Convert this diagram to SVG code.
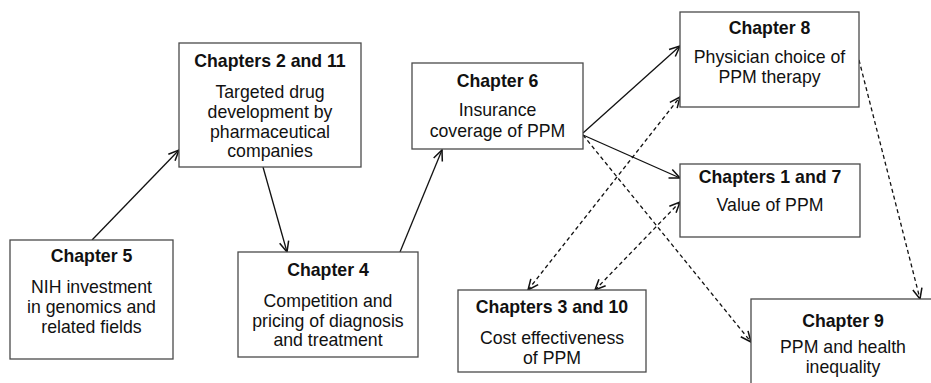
<svg xmlns="http://www.w3.org/2000/svg" width="931" height="383" viewBox="0 0 931 383">
<style>
.box{fill:#fff;stroke:#4a4a4a;stroke-width:1.3}
text{font-family:"Liberation Sans",Arial,sans-serif;font-size:17.7px;fill:#111;text-anchor:middle}
.t{font-weight:bold}
.c{fill:none;stroke:#111;stroke-width:1.3}
.d{stroke-dasharray:4 3}
</style>
<defs>
<marker id="ah" markerUnits="userSpaceOnUse" markerWidth="14" markerHeight="14" refX="10" refY="5" orient="auto-start-reverse" viewBox="0 0 12 10">
<path d="M1,1 L10,5 L1,9" fill="none" stroke="#111" stroke-width="1.3"/>
</marker>
</defs>
<rect width="931" height="383" fill="#fff"/>
<g id="connectors">
<path class="c" d="M92,240 L179,150" marker-end="url(#ah)"/>
<path class="c" d="M263,167 L287,252" marker-end="url(#ah)"/>
<path class="c" d="M400,252 L442,150" marker-end="url(#ah)"/>
<path class="c" d="M583,133 L680,46" marker-end="url(#ah)"/>
<path class="c" d="M583,135 L680,178" marker-end="url(#ah)"/>
<path class="c d" d="M583,135 L751,342" marker-end="url(#ah)"/>
<path class="c d" d="M528,290 L680,97" marker-start="url(#ah)" marker-end="url(#ah)"/>
<path class="c d" d="M595,290 L680,202" marker-start="url(#ah)" marker-end="url(#ah)"/>
<path class="c d" d="M859,60 L920,299" marker-end="url(#ah)"/>
</g>
<g id="ch5">
<rect class="box" x="10" y="240" width="163" height="119"/>
<text class="t" x="91.5" y="262">Chapter 5</text>
<text x="91.5" y="293">NIH investment</text>
<text x="91.5" y="313">in genomics and</text>
<text x="91.5" y="333">related fields</text>
</g>
<g id="ch2_11">
<rect class="box" x="179" y="43" width="182" height="124"/>
<text class="t" x="270" y="67">Chapters 2 and 11</text>
<text x="270" y="98">Targeted drug</text>
<text x="270" y="118">development by</text>
<text x="270" y="138">pharmaceutical</text>
<text x="270" y="157">companies</text>
</g>
<g id="ch4">
<rect class="box" x="238" y="252" width="180" height="105"/>
<text class="t" x="328" y="276">Chapter 4</text>
<text x="328" y="307">Competition and</text>
<text x="328" y="327">pricing of diagnosis</text>
<text x="328" y="346">and treatment</text>
</g>
<g id="ch6">
<rect class="box" x="412" y="63" width="171" height="86"/>
<text class="t" x="497.5" y="87">Chapter 6</text>
<text x="497.5" y="116">Insurance</text>
<text x="497.5" y="137">coverage of PPM</text>
</g>
<g id="ch8">
<rect class="box" x="680" y="12" width="179" height="95"/>
<text class="t" x="769.5" y="34">Chapter 8</text>
<text x="769.5" y="63">Physician choice of</text>
<text x="769.5" y="83">PPM therapy</text>
</g>
<g id="ch1_7">
<rect class="box" x="680" y="164" width="180" height="73"/>
<text class="t" x="770" y="183">Chapters 1 and 7</text>
<text x="770" y="211">Value of PPM</text>
</g>
<g id="ch3_10">
<rect class="box" x="458" y="290" width="188" height="82"/>
<text class="t" x="552" y="313">Chapters 3 and 10</text>
<text x="552" y="344">Cost effectiveness</text>
<text x="552" y="364">of PPM</text>
</g>
<g id="ch9">
<rect class="box" x="751" y="299" width="190" height="100"/>
<text class="t" x="843" y="327">Chapter 9</text>
<text x="843" y="353">PPM and health</text>
<text x="843" y="373">inequality</text>
</g>
</svg>
